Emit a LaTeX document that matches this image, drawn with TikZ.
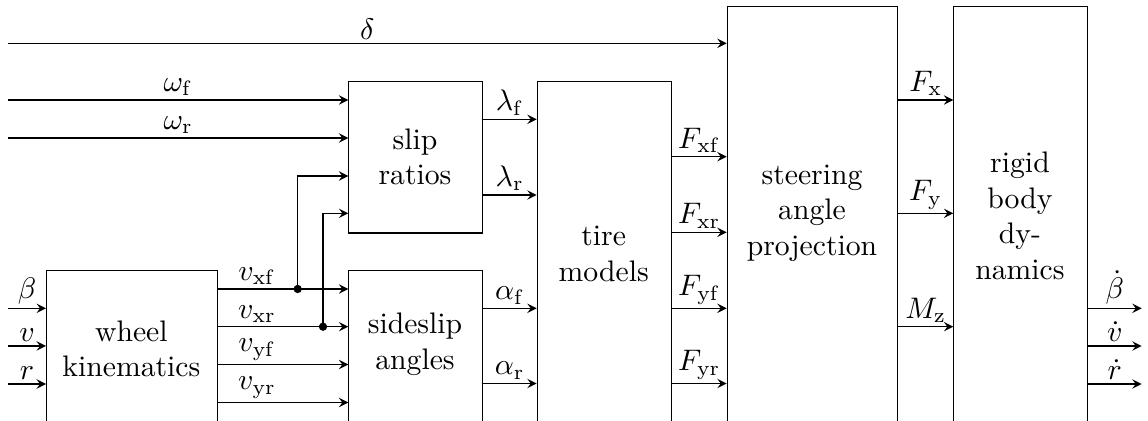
\documentclass[tikz,border=0pt]{standalone}
\usetikzlibrary{arrows}
\begin{document}
\begin{tikzpicture}[x=0.3367pt,y=-0.3367pt,
  blk/.style={draw, anchor=north west, inner sep=0pt, line width=0.4pt},
  txt/.style={align=center, inner sep=0pt},
  lab/.style={anchor=south, inner sep=1.2pt},
  sig/.style={-stealth, line width=0.4pt},
  dot/.style={circle, fill, inner sep=0pt, minimum size=2.8pt}]
\path[use as bounding box] (0,0) rectangle (1148,421);
\clip (0,0) rectangle (1148,421);

% blocks
\node[blk, minimum width=57.5pt, minimum height=57.2pt] (wheel) at (46,270) {};
\node[blk, minimum width=44.9pt, minimum height=50.95pt] (slip) at (348.3,81) {};
\node[blk, minimum width=44.9pt, minimum height=57.2pt] (side) at (348.3,270) {};
\node[blk, minimum width=45.1pt, minimum height=120.9pt] (tire) at (536.7,81) {};
\node[blk, minimum width=57.4pt, minimum height=146.1pt] (steer) at (726.7,5.7) {};
\node[blk, minimum width=44.9pt, minimum height=146.1pt] (rigid) at (953.3,5.7) {};

% block texts
\node[txt] (wheelt) at (131.4,349) {wheel\\kinematics};
\node[txt] (slipt) at (415,157) {slip\\ratios};
\node[txt] (sidet) at (415,344) {sideslip\\angles};
\node[txt] (tiret) at (603.7,254) {tire\\models};
\node[txt] (steert) at (812,213) {steering\\angle\\projection};
\node[txt] (rigidt) at (1020,216) {rigid\\body\\dy-\\namics};

% free ends
\coordinate (ind) at (8,43.3);
\coordinate (inwf) at (8,100);
\coordinate (inwr) at (8,138);
\coordinate (inb) at (8,308.3);
\coordinate (inv) at (8,346);
\coordinate (inr) at (8,384);
\coordinate (outb) at (1141.7,308.3);
\coordinate (outv) at (1141.7,346);
\coordinate (outr) at (1141.7,384);

% external inputs
\draw[sig] (ind) -- (steer.west |- ind) node[lab, midway] {$\delta$};
\draw[sig] (inwf) -- (slip.west |- inwf) node[lab, midway] {$\omega_\mathrm{f}$};
\draw[sig] (inwr) -- (slip.west |- inwr) node[lab, midway] {$\omega_\mathrm{r}$};
\draw[sig] (inb) -- (wheel.west |- inb) node[lab, midway] {$\beta$};
\draw[sig] (inv) -- (wheel.west |- inv) node[lab, midway] {$v$};
\draw[sig] (inr) -- (wheel.west |- inr) node[lab, midway] {$r$};

% wheel kinematics -> sideslip angles
\draw[sig] (wheel.east |- 0,289) -- (side.west |- 0,289) node[lab, pos=0.3] {$v_\mathrm{xf}$};
\draw[sig] (wheel.east |- 0,326.7) -- (side.west |- 0,326.7) node[lab, pos=0.3] {$v_\mathrm{xr}$};
\draw[sig] (wheel.east |- 0,364.5) -- (side.west |- 0,364.5) node[lab, pos=0.3] {$v_\mathrm{yf}$};
\draw[sig] (wheel.east |- 0,402.5) -- (side.west |- 0,402.5) node[lab, pos=0.3] {$v_\mathrm{yr}$};

% branches to slip ratios
\node[dot] (d1) at (297.7,289) {};
\node[dot] (d2) at (323,326.7) {};
\draw[sig] (d1.center) |- (slip.west |- 0,176);
\draw[sig] (d2.center) |- (slip.west |- 0,213.3);

% slip ratios / sideslip -> tire models
\draw[sig] (slip.east |- 0,119.3) -- (tire.west |- 0,119.3) node[lab, midway] {$\lambda_\mathrm{f}$};
\draw[sig] (slip.east |- 0,195) -- (tire.west |- 0,195) node[lab, midway] {$\lambda_\mathrm{r}$};
\draw[sig] (side.east |- 0,308.3) -- (tire.west |- 0,308.3) node[lab, midway] {$\alpha_\mathrm{f}$};
\draw[sig] (side.east |- 0,383.5) -- (tire.west |- 0,383.5) node[lab, midway] {$\alpha_\mathrm{r}$};

% tire models -> steering angle projection
\draw[sig] (tire.east |- 0,156.7) -- (steer.west |- 0,156.7) node[lab, midway] {$F_\mathrm{xf}$};
\draw[sig] (tire.east |- 0,232.3) -- (steer.west |- 0,232.3) node[lab, midway] {$F_\mathrm{xr}$};
\draw[sig] (tire.east |- 0,308.3) -- (steer.west |- 0,308.3) node[lab, midway] {$F_\mathrm{yf}$};
\draw[sig] (tire.east |- 0,383.5) -- (steer.west |- 0,383.5) node[lab, midway] {$F_\mathrm{yr}$};

% steering -> rigid body
\draw[sig] (steer.east |- 0,100) -- (rigid.west |- 0,100) node[lab, midway] {$F_\mathrm{x}$};
\draw[sig] (steer.east |- 0,213.3) -- (rigid.west |- 0,213.3) node[lab, midway] {$F_\mathrm{y}$};
\draw[sig] (steer.east |- 0,326.7) -- (rigid.west |- 0,326.7) node[lab, midway] {$M_\mathrm{z}$};

% outputs
\draw[sig] (rigid.east |- outb) -- (outb) node[lab, midway] {$\dot\beta$};
\draw[sig] (rigid.east |- outv) -- (outv) node[lab, midway] {$\dot v$};
\draw[sig] (rigid.east |- outr) -- (outr) node[lab, midway] {$\dot r$};
\end{tikzpicture}
\end{document}
